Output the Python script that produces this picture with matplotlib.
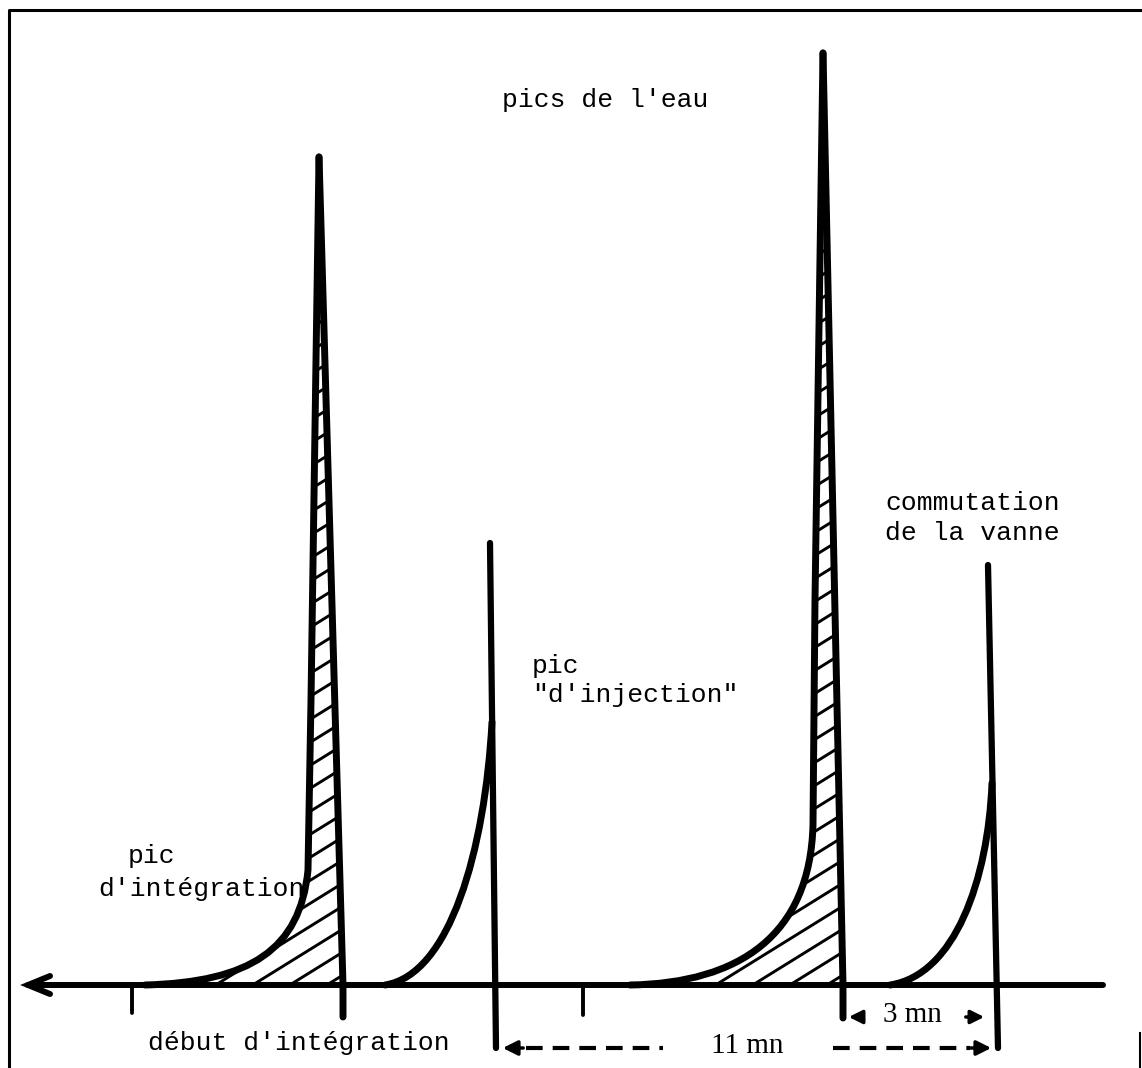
import matplotlib.pyplot as plt
import numpy as np
from matplotlib.path import Path
from matplotlib.patches import PathPatch

# values, in image pixels (x to the right, y downwards)
baseline_y = 985
axis_x = [28, 1103]
tick_x = [132, 583]
tick_bottom = [1013, 1015]

# water peaks: apex, straight left edge down to a knee, curved foot, straight right edge
water_apex = [(319, 157), (823, 53)]
water_mid = [(311, 700), (815, 600)]
water_knee = [(308, 870), (813, 825)]
water_ctrl = [[(300, 950), (250, 982)], [(810, 935), (740, 983)]]
water_foot = [145, 630]
water_right_x = [343, 843]
water_drop = [1017, 1018]

# injection peaks: vertical stroke plus a curved left flank
inj_top = [(490, 543), (988, 565)]
inj_bottom = [(496, 1048), (998, 1048)]
inj_knee = [(492, 722), (992, 783)]
inj_ctrl = [[(485, 850), (450, 975)], [(988, 880), (955, 975)]]
inj_foot = [385, 890]

labels = [
    (502, 100, "pics de l'eau"),
    (532, 666, "pic"),
    (532, 695, "\"d'injection\""),
    (885, 503, "commutation"),
    (885, 533, "de la vanne"),
    (128, 856, "pic"),
    (98, 889, "d'intégration"),
    (148, 1043, "début d'intégration"),
]
dim_11 = (496, 998, 1048, "11 mn")
dim_3 = (843, 993, 1017, "3 mn")

W, H = 1142, 1068
fig = plt.figure(figsize=(W / 100, H / 100), dpi=100)
ax = fig.add_axes([0, 0, 1, 1])
ax.set_xlim(0, W)
ax.set_ylim(H, 0)
ax.axis('off')

lw = 5.0
# frame of the scanned page
ax.plot([9, 9, 1142], [1068, 10, 10], color='black', lw=2.2, solid_capstyle='butt')
ax.plot([1140, 1140], [1033, 1068], color='black', lw=1.5)

# time axis with arrow on the left
ax.plot(axis_x, [baseline_y, baseline_y], color='black', lw=4.3, solid_capstyle='round')
ax.plot([50, axis_x[0], 50], [976, baseline_y, 994], color='black', lw=4.3,
        solid_capstyle='round', solid_joinstyle='miter')
for tx, tb in zip(tick_x, tick_bottom):
    ax.plot([tx, tx], [baseline_y, tb], color='black', lw=2.8, solid_capstyle='round')

# water peaks, hatched
k = 0.62  # slope of the hatch strokes
for apex, mid, knee, ctrl, foot, rx, drop in zip(water_apex, water_mid, water_knee,
                                                  water_ctrl, water_foot, water_right_x,
                                                  water_drop):
    area = Path([apex, mid, knee, ctrl[0], ctrl[1], (foot, baseline_y),
                 (rx, baseline_y), apex],
                [Path.MOVETO, Path.LINETO, Path.LINETO, Path.CURVE4, Path.CURVE4,
                 Path.CURVE4, Path.LINETO, Path.CLOSEPOLY])
    clip = PathPatch(area, facecolor='none', edgecolor='none', transform=ax.transData)
    ax.add_patch(clip)
    xs = np.array([foot - 10, rx + 10])
    c_start = baseline_y + k * (rx - foot) - 10
    for c in np.arange(c_start, apex[1] + k * (rx - foot) - 20, -23):
        ln, = ax.plot(xs, c - k * (xs - foot), color='black', lw=2.1)
        ln.set_clip_path(clip)
    flank = Path([apex, mid, knee, ctrl[0], ctrl[1], (foot, baseline_y)],
                 [Path.MOVETO, Path.LINETO, Path.LINETO, Path.CURVE4, Path.CURVE4,
                  Path.CURVE4])
    ax.add_patch(PathPatch(flank, facecolor='none', edgecolor='black', lw=lw,
                           capstyle='round', joinstyle='round'))
    ax.plot([apex[0], rx, rx], [apex[1], baseline_y, drop], color='black', lw=lw,
            solid_capstyle='round', solid_joinstyle='round')

# injection peaks
for top, bot, knee, ctrl, foot in zip(inj_top, inj_bottom, inj_knee, inj_ctrl, inj_foot):
    ax.plot([top[0], bot[0]], [top[1], bot[1]], color='black', lw=4.5, solid_capstyle='round')
    flank = Path([knee, ctrl[0], ctrl[1], (foot, baseline_y)],
                 [Path.MOVETO, Path.CURVE4, Path.CURVE4, Path.CURVE4])
    ax.add_patch(PathPatch(flank, facecolor='none', edgecolor='black', lw=lw,
                           capstyle='round'))

# labels
for x, y, s in labels:
    ax.text(x, y, s, family='Liberation Mono', fontsize=19, va='center', ha='left')

# 11 mn dimension
x0, x1, y, s = dim_11
ax.annotate('', xy=(x0 + 4, y), xytext=(x0 + 30, y),
            arrowprops=dict(arrowstyle='-|>', color='black', lw=2.5, mutation_scale=22))
ax.annotate('', xy=(x1 - 4, y), xytext=(x1 - 30, y),
            arrowprops=dict(arrowstyle='-|>', color='black', lw=2.5, mutation_scale=22))
ax.plot([x0 + 30, 663], [y, y], color='black', lw=3, dashes=(4, 2.4))
ax.plot([833, x1 - 28], [y, y], color='black', lw=3, dashes=(4, 2.4))
ax.text((x0 + x1) / 2, y - 2, s, family='Liberation Serif', fontsize=21, ha='center', va='center')

# 3 mn dimension
x0, x1, y, s = dim_3
ax.annotate('', xy=(x0 + 3, y), xytext=(x0 + 22, y),
            arrowprops=dict(arrowstyle='-|>', color='black', lw=2.5, mutation_scale=20))
ax.annotate('', xy=(x1 - 6, y), xytext=(x1 - 30, y),
            arrowprops=dict(arrowstyle='-|>', color='black', lw=2.5, mutation_scale=20))
ax.text((x0 + x1) / 2 - 6, y - 2, s, family='Liberation Serif', fontsize=21, ha='center', va='center')

fig.savefig('out.png', dpi=100, facecolor='white')
